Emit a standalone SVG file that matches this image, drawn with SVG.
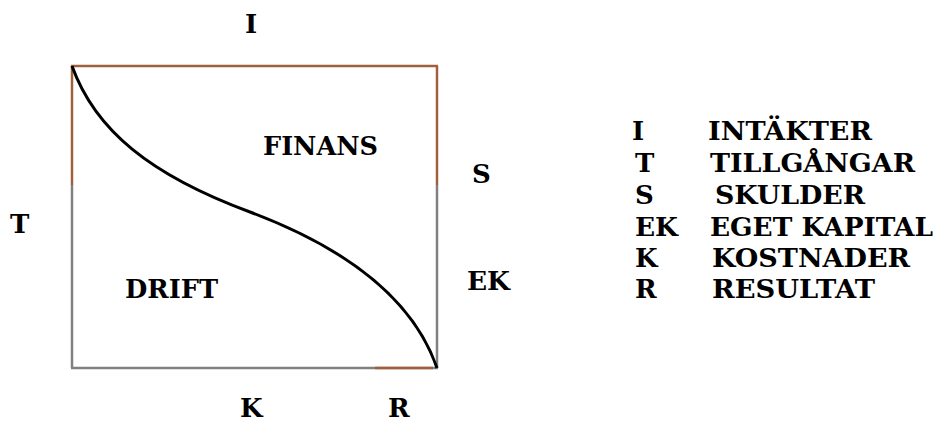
<svg xmlns="http://www.w3.org/2000/svg" width="939" height="423" viewBox="0 0 939 423">
<style>
.t{font-family:"DejaVu Serif","Liberation Serif",serif;font-weight:bold;font-size:26px;fill:#000}
.g{stroke:#808080;stroke-width:2.5;fill:none}
.b{stroke:#a0603c;stroke-width:2.5;fill:none}
.c{stroke:#000;stroke-width:3;fill:none}
</style>
<rect width="939" height="423" fill="#fff"/>
<g id="box">
<line class="g" x1="72" y1="185" x2="72" y2="368"/>
<line class="g" x1="437" y1="185" x2="437" y2="368"/>
<line class="g" x1="71" y1="368" x2="438" y2="368"/>
<line class="b" x1="72" y1="66" x2="72" y2="185"/>
<line class="b" x1="437" y1="66" x2="437" y2="185"/>
<line class="b" x1="71" y1="66" x2="438" y2="66"/>
<line class="b" x1="375" y1="368" x2="433" y2="368"/>
</g>
<g id="connectors">
<path class="c" d="M72,66 C95,130 150,175 250,212 C330,242 410,290 437,368"/>
</g>
<g id="labels" class="t">
<text x="245" y="33">I</text>
<text x="10" y="233">T</text>
<text x="472" y="183">S</text>
<text x="467" y="290" textLength="43" lengthAdjust="spacingAndGlyphs">EK</text>
<text x="240" y="417">K</text>
<text x="388" y="417">R</text>
<text x="263" y="155" textLength="115" lengthAdjust="spacingAndGlyphs">FINANS</text>
<text x="125" y="298" textLength="93" lengthAdjust="spacingAndGlyphs">DRIFT</text>
</g>
<g id="legend" class="t">
<text x="632" y="140">I</text><text x="708" y="140" textLength="164" lengthAdjust="spacingAndGlyphs">INTÄKTER</text>
<text x="635" y="172">T</text><text x="710" y="172" textLength="205" lengthAdjust="spacingAndGlyphs">TILLGÅNGAR</text>
<text x="635" y="204">S</text><text x="715" y="204" textLength="150" lengthAdjust="spacingAndGlyphs">SKULDER</text>
<text x="635" y="236" textLength="43" lengthAdjust="spacingAndGlyphs">EK</text><text x="710" y="236" textLength="223" lengthAdjust="spacingAndGlyphs">EGET KAPITAL</text>
<text x="635" y="267">K</text><text x="712" y="267" textLength="198" lengthAdjust="spacingAndGlyphs">KOSTNADER</text>
<text x="635" y="298">R</text><text x="712" y="298" textLength="163" lengthAdjust="spacingAndGlyphs">RESULTAT</text>
</g>
</svg>
